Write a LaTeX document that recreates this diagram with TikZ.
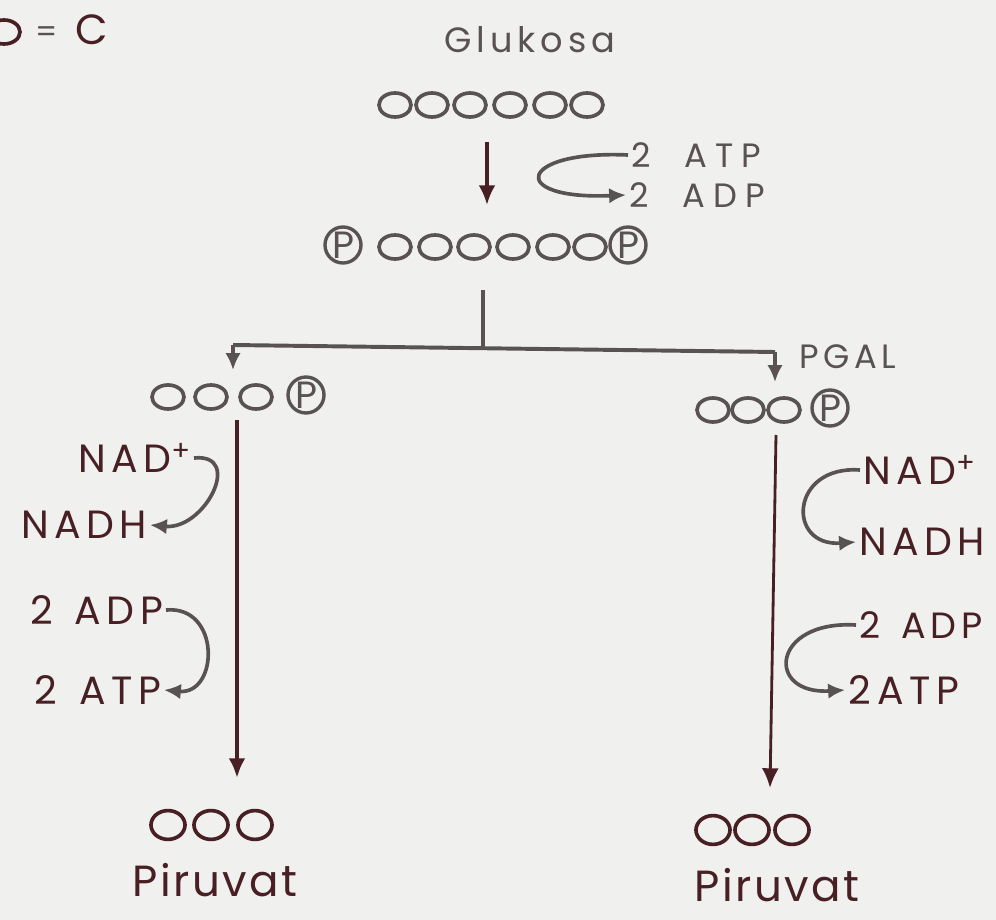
\documentclass[tikz,border=0pt]{standalone}
\usepackage{fontspec}
\setmainfont{Poppins}
\newfontfamily\hand[LetterSpace=14]{Poppins}
\newfontfamily\handwide[LetterSpace=24]{Poppins}
\newfontfamily\handtight[LetterSpace=6]{Poppins}
\usetikzlibrary{shapes.geometric,arrows.meta,calc}
\definecolor{paper}{RGB}{240,240,238}
\definecolor{ink}{RGB}{72,32,36}
\definecolor{pencil}{RGB}{88,82,82}
\begin{document}
\begin{tikzpicture}[x=0.025cm,y=-0.025cm,
  carbon/.style={draw=pencil, ellipse, line width=2.6pt, minimum width=0.8cm, minimum height=0.6cm, inner sep=0pt},
  phos/.style={draw=pencil, circle, line width=2.4pt, minimum size=0.9cm, inner sep=0pt, text=pencil, font=\fontsize{27}{27}\selectfont},
  lbl/.style={font=\handwide\fontsize{24}{27}\selectfont, text=pencil, inner sep=2pt},
  big/.style={font=\hand\fontsize{28}{32}\selectfont, text=ink, inner sep=2pt},
  title/.style={font=\handtight\fontsize{31}{34}\selectfont, text=ink, inner sep=2pt},
  flow/.style={draw=ink, line width=3pt, -{Latex[length=14pt,width=12pt]}},
  cycle/.style={draw=pencil, line width=2.6pt, -{Latex[length=12pt,width=11pt]}},
  split/.style={draw=pencil, line width=2.8pt}
]
\useasboundingbox[fill=paper] (0,0) rectangle (996,920);

% legend
\node[carbon, draw=ink] (lo) at (4,32) {};
\node[font=\fontsize{22}{22}\selectfont, text=pencil] (leq) at (47,35) {=};
\node[font=\fontsize{30}{30}\selectfont, text=ink] (lc) at (92,30) {C};

% glucose
\node[lbl, font=\hand\fontsize{25}{28}\selectfont] (glu) at (530,40) {Glukosa};
\foreach \i/\x in {1/395,2/432,3/470,4/510,5/550,6/587}
  \node[carbon] (g\i) at (\x,105) {};

% first step
\coordinate (s1a) at (487,142);
\coordinate (s1b) at (487,205);
\draw[flow, line width=2.4pt] (s1a) -- (s1b);
\node[lbl, anchor=west] (atp1) at (628,155) {2\hspace{0.85cm}ATP};
\node[lbl, anchor=west] (adp1) at (626,195) {2\hspace{0.85cm}ADP};
\draw[cycle] (atp1.west) .. controls +(-110,-5) and +(-120,5) .. (adp1.west);

% fructose bisphosphate
\node[phos] (fp1) at (343,245) {P};
\foreach \i/\x in {1/395,2/435,3/474,4/513,5/553,6/590}
  \node[carbon] (f\i) at (\x,247) {};
\node[phos] (fp2) at (628,245) {P};

% split
\coordinate (v1) at (483,290);
\coordinate (v2) at (483,350);
\coordinate (hl) at (233,345);
\coordinate (hr) at (775,352);
\coordinate (tl) at (233,370);
\coordinate (tr) at (775,382);
\draw[split] (v1) -- (v2);
\draw[split] (hl) -- (hr);
\draw[cycle] (hl) -- (tl);
\draw[cycle] (hr) -- (tr);
\node[lbl, font=\hand\fontsize{24}{27}\selectfont, anchor=west] (pgal) at (796,357) {PGAL};

% left triose
\foreach \i/\x in {1/168,2/211,3/256}
  \node[carbon] (l\i) at (\x,397) {};
\node[phos] (lp) at (306,395) {P};
% right triose
\foreach \i/\x in {1/713,2/748,3/784}
  \node[carbon] (r\i) at (\x,410) {};
\node[phos] (rp) at (830,408) {P};

% main vertical arrows
\coordinate (la) at (237,420);
\coordinate (lb) at (237,778);
\draw[flow] (la) -- (lb);
\coordinate (ra) at (776,435);
\coordinate (rb) at (770,788);
\draw[flow, line width=2pt] (ra) -- (rb);

% left cofactors
\node[big, anchor=east] (lnad) at (194,458) {NAD\textsuperscript{+}};
\node[big, anchor=east] (lnadh) at (150,525) {NADH};
\draw[cycle] (lnad.east) .. controls +(50,-5) and +(55,5) .. (lnadh.east);
\node[big, anchor=east] (ladp) at (166,610) {2\hspace{0.55cm}ADP};
\node[big, anchor=east] (latp) at (164,690) {2\hspace{0.55cm}ATP};
\draw[cycle] (ladp.east) .. controls +(55,-5) and +(55,5) .. (latp.east);

% right cofactors
\node[big, anchor=west] (rnad) at (860,470) {NAD\textsuperscript{+}};
\node[big, anchor=west] (rnadh) at (856,542) {NADH};
\draw[cycle] (rnad.west) .. controls +(-70,-5) and +(-70,5) .. (rnadh.west);
\node[big, anchor=west, font=\hand\fontsize{26}{30}\selectfont] (radp) at (856,625) {2\, ADP};
\node[big, anchor=west] (ratp) at (845,690) {2\,ATP};
\draw[cycle] (radp.west) .. controls +(-85,-5) and +(-80,5) .. (ratp.west);

% pyruvate
\foreach \i/\x in {1/168,2/211,3/255}
  \node[carbon, draw=ink, minimum height=0.72cm, minimum width=0.85cm] (pl\i) at (\x,825) {};
\foreach \i/\x in {1/713,2/752,3/792}
  \node[carbon, draw=ink, minimum height=0.72cm, minimum width=0.85cm] (pr\i) at (\x,830) {};
\node[title] (piru1) at (215,880) {Piruvat};
\node[title] (piru2) at (777,885) {Piruvat};
\end{tikzpicture}
\end{document}
